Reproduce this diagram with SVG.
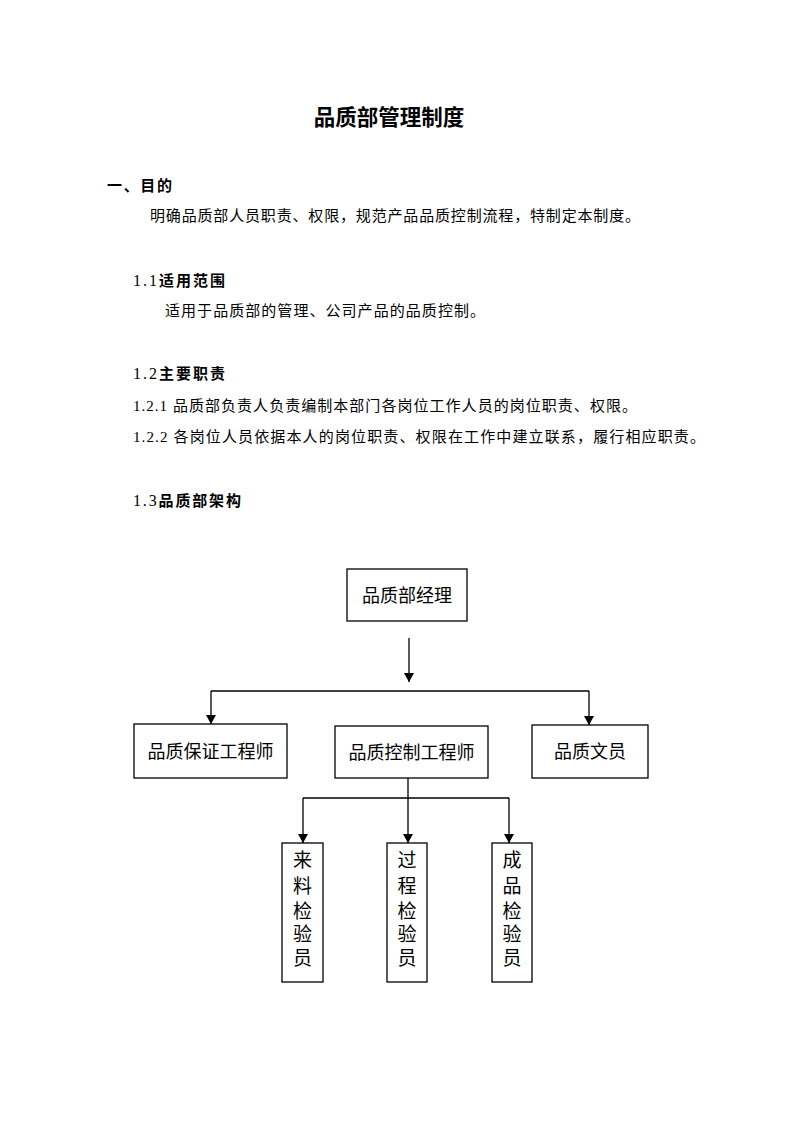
<svg xmlns="http://www.w3.org/2000/svg" width="800" height="1132" viewBox="0 0 800 1132">
<style>
.title{font-family:"Liberation Sans","Noto Sans CJK SC",sans-serif;font-weight:bold;font-size:21.5px;fill:#000}
.h{font-family:"Liberation Sans","Noto Sans CJK SC",sans-serif;font-weight:bold;font-size:15px;fill:#000}
.num{font-family:"Liberation Serif","Noto Sans CJK SC",serif;font-weight:normal;font-size:16px}
.body{font-family:"Liberation Serif","Noto Sans CJK SC",sans-serif;font-size:15px;fill:#000}
.box{fill:#fff;stroke:#000;stroke-width:1.3}
.lbl{font-family:"Liberation Serif","Noto Sans CJK SC",sans-serif;font-size:18px;fill:#000;text-anchor:middle}
.vl{font-family:"Liberation Serif","Noto Sans CJK SC",sans-serif;font-size:19px;fill:#000;text-anchor:middle}
.conn{fill:none;stroke:#000;stroke-width:1.3}
</style>
<defs>
<marker id="ah" markerUnits="userSpaceOnUse" markerWidth="10" markerHeight="12" refX="9" refY="5" orient="auto">
<path d="M0,0 L9,5 L0,10 Z" fill="#000"/>
</marker>
</defs>
<rect width="800" height="1132" fill="#fff"/>

<text class="title" x="389" y="125" text-anchor="middle">品质部管理制度</text>
<text class="h" x="107" y="190.5" textLength="65" lengthAdjust="spacing">一、目的</text>
<text class="body" x="150" y="221" textLength="490" lengthAdjust="spacing">明确品质部人员职责、权限，规范产品品质控制流程，特制定本制度。</text>
<text class="h" x="133" y="286" textLength="92" lengthAdjust="spacing"><tspan class="num">1.1</tspan>适用范围</text>
<text class="body" x="165" y="316" textLength="320" lengthAdjust="spacing">适用于品质部的管理、公司产品的品质控制。</text>
<text class="h" x="133" y="379" textLength="92" lengthAdjust="spacing"><tspan class="num">1.2</tspan>主要职责</text>
<text class="body" x="133" y="411" textLength="504" lengthAdjust="spacing">1.2.1 品质部负责人负责编制本部门各岗位工作人员的岗位职责、权限。</text>
<text class="body" x="133" y="442" textLength="572" lengthAdjust="spacing">1.2.2 各岗位人员依据本人的岗位职责、权限在工作中建立联系，履行相应职责。</text>
<text class="h" x="133" y="506" textLength="108" lengthAdjust="spacing"><tspan class="num">1.3</tspan>品质部架构</text>

<g id="connectors">
<path class="conn" d="M409 638 V682" marker-end="url(#ah)"/>
<path class="conn" d="M211 691 H589"/>
<path class="conn" d="M211 691 V724" marker-end="url(#ah)"/>
<path class="conn" d="M589 691 V725" marker-end="url(#ah)"/>
<path class="conn" d="M408 778 V843" marker-end="url(#ah)"/>
<path class="conn" d="M303 798 H509"/>
<path class="conn" d="M303 798 V843" marker-end="url(#ah)"/>
<path class="conn" d="M509 798 V843" marker-end="url(#ah)"/>
</g>

<g id="manager">
<rect class="box" x="347" y="569" width="120" height="52"/>
<text class="lbl" x="407" y="602">品质部经理</text>
</g>
<g id="qa-engineer">
<rect class="box" x="134" y="724" width="153" height="54"/>
<text class="lbl" x="210.5" y="758">品质保证工程师</text>
</g>
<g id="qc-engineer">
<rect class="box" x="335" y="726" width="153" height="52"/>
<text class="lbl" x="411.5" y="759">品质控制工程师</text>
</g>
<g id="clerk">
<rect class="box" x="532" y="725" width="116" height="53"/>
<text class="lbl" x="590" y="758">品质文员</text>
</g>
<g id="iqc">
<rect class="box" x="282" y="843" width="41" height="139"/>
<text class="vl" x="302.5" y="867">来</text>
<text class="vl" x="302.5" y="893">料</text>
<text class="vl" x="302.5" y="918">检</text>
<text class="vl" x="302.5" y="941">验</text>
<text class="vl" x="302.5" y="965">员</text>
</g>
<g id="ipqc">
<rect class="box" x="387" y="843" width="40" height="139"/>
<text class="vl" x="407" y="867">过</text>
<text class="vl" x="407" y="893">程</text>
<text class="vl" x="407" y="918">检</text>
<text class="vl" x="407" y="941">验</text>
<text class="vl" x="407" y="965">员</text>
</g>
<g id="fqc">
<rect class="box" x="492" y="843" width="40" height="139"/>
<text class="vl" x="512" y="867">成</text>
<text class="vl" x="512" y="893">品</text>
<text class="vl" x="512" y="918">检</text>
<text class="vl" x="512" y="941">验</text>
<text class="vl" x="512" y="965">员</text>
</g>
</svg>
